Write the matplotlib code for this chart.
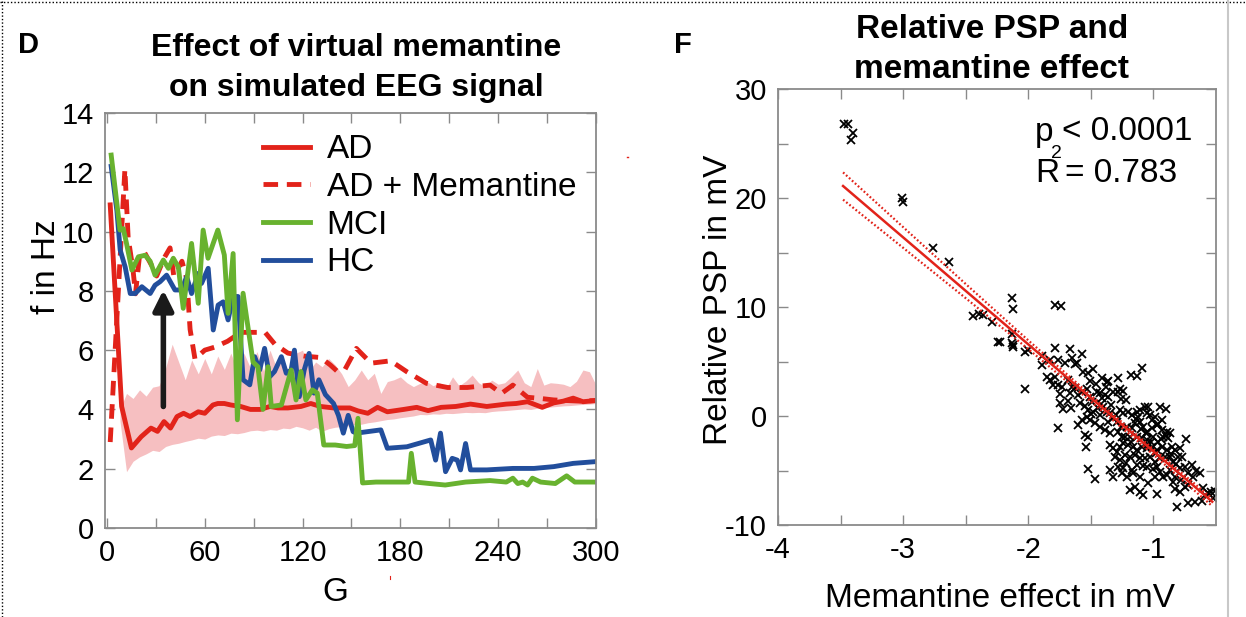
import numpy as np
import matplotlib
matplotlib.use('Agg')
import matplotlib.pyplot as plt
from matplotlib.lines import Line2D
import matplotlib as mpl

mpl.rcParams.update({'font.family': ['Liberation Sans', 'DejaVu Sans'],
                     'axes.unicode_minus': False})

# ---- panel D data (G vs f in Hz) ----
ad_g = [2, 9, 15, 21, 27, 31, 35, 39, 43, 47, 51, 56, 60, 65, 68, 72, 76, 82, 88, 94,
        100, 105, 111, 119, 125, 131, 139, 149, 154, 160, 166, 172, 182, 190, 197, 205, 214, 223, 233, 245,
        251, 258, 267, 274, 280, 286, 292, 300]
ad_f = [10.9, 4.1, 2.7, 3.08, 3.37, 3.26, 3.59, 3.37, 3.76, 3.87, 3.76, 3.92, 3.87, 4.15, 4.2, 4.2, 4.15, 4.1, 4.0, 4.0,
        4.1, 4.05, 4.05, 4.1, 4.2, 4.1, 4.05, 4.05, 3.95, 3.87, 4.07, 3.92, 4.0, 4.07, 3.96, 4.07, 4.1, 4.18, 4.1, 4.18,
        4.2, 4.26, 4.07, 4.22, 4.28, 4.38, 4.26, 4.3]

adm_g = [2, 11, 13, 16, 17.5, 20, 23, 27, 30.5, 35, 38.7, 41, 46, 49, 51, 54, 60, 66, 74,
         82, 90, 97, 103, 111, 121, 131, 137, 141, 146, 153, 162, 174, 184, 196, 209, 221, 235, 242, 249,
         258, 266, 274, 282, 290, 300]
adm_f = [2.9, 12.1, 9.8, 8.7, 7.9, 9.2, 9.3, 8.9, 8.5, 9.1, 9.45, 8.5, 9.0, 8.4, 6.7, 5.7, 6.0, 6.1, 6.3,
         6.6, 6.6, 6.6, 6.2, 5.9, 5.8, 5.75, 5.5, 5.3, 5.35, 6.06, 5.56, 5.64, 5.27, 4.88, 4.74, 4.74, 4.82, 4.54, 4.82,
         4.41, 4.37, 4.32, 4.3, 4.28, 4.3]

mci_g = [2.6, 8, 10, 12, 15.3, 19.3, 23.4, 26.5, 29.5, 34.6, 37.7, 40.7, 43.8, 46.8, 51.9, 56, 59, 62, 68, 72,
         74.3, 77.4, 80, 83.5, 89.6, 92.6, 95.7, 98.8, 100.8, 107, 113, 116, 119, 122, 126, 129, 133, 140, 147, 152,
         154, 156.8, 165, 175, 185, 186.7, 189, 198, 207.5, 220, 235, 245, 249, 252, 255, 258, 261, 266, 275, 282,
         287, 300]
mci_f = [12.58, 10.05, 10.1, 9.6, 8.7, 9.15, 9.2, 9.0, 8.53, 9.04, 8.76, 9.1, 8.8, 7.41, 9.6, 7.58, 10.05, 9.1, 10.05, 9.21,
         7.24, 9.26, 3.65, 7.92, 5.6, 5.44, 4.0, 5.44, 4.1, 4.15, 5.33, 4.32, 5.28, 4.32, 4.66, 4.55, 2.8, 2.8, 2.75, 2.78,
         3.7, 1.52, 1.55, 1.55, 1.55, 2.52, 1.55, 1.5, 1.45, 1.55, 1.6, 1.55, 1.68, 1.5, 1.55, 1.45, 1.68, 1.55, 1.5, 1.76,
         1.55, 1.55]

hc_g = [2.6, 6.1, 8.1, 11.2, 14.3, 17.3, 21.4, 26.5, 29.5, 32.6, 36.6, 41.7, 45.8, 48.9, 51.9, 56, 58, 62.1, 65.2, 68.2,
        71.3, 74.3, 77.4, 80.4, 83.5, 87.6, 90.6, 93.7, 96.7, 99.8, 102.8, 107, 110, 113, 115, 118, 121, 124, 127, 130,
        134, 139, 142, 145, 148, 151, 153, 168, 172, 184, 198.6, 201.6, 204.6, 207.7, 211.8, 214.9, 216.9, 220, 223, 233,
        249, 262, 274, 286, 300]
hc_f = [12.2, 10.7, 9.38, 8.8, 7.91, 7.91, 8.14, 7.91, 8.19, 8.31, 8.53, 8.03, 8.03, 8.48, 7.91, 8.59, 8.25, 8.76, 6.68, 7.52,
        7.63, 7.02, 7.81, 7.81, 5.0, 4.83, 5.78, 5.33, 6.06, 5.1, 5.28, 5.78, 5.22, 5.33, 6.0, 4.43, 5.33, 5.89, 4.55, 5.0,
        4.5, 4.2, 3.8, 3.2, 3.8, 3.25, 3.2, 3.31, 2.69, 2.74, 2.97, 2.29, 3.2, 1.9, 2.35, 2.29, 1.96, 2.85, 1.96, 1.96,
        2.01, 2.01, 2.07, 2.18, 2.24]

band_g = [8, 12, 16, 20, 24, 28, 32, 36, 40, 44, 48, 52, 56, 60, 64, 68, 72, 76, 80, 84, 88, 92, 96, 100, 104,
          108, 112, 116, 120, 124, 128, 132, 136, 140, 144, 148, 152, 156, 160, 164, 168, 172, 176, 180, 184,
          188, 192, 196, 200, 204, 208, 212, 216, 220, 224, 228, 232, 236, 240, 244, 248, 252, 256, 260, 264,
          268, 272, 276, 280, 284, 288, 292, 296, 300]
band_hi = [4.0, 4.54, 4.37, 4.66, 4.45, 4.75, 4.8, 5.4, 6.2, 5.6, 5.0, 5.67, 5.2, 5.72, 5.2, 5.8, 5.35, 5.9, 5.3, 5.9,
           5.4, 5.95, 5.3, 6.0, 5.4, 5.7, 5.2, 5.9, 6.0, 5.3, 5.6, 5.44, 5.72, 5.5, 5.2, 4.77, 5.0, 5.33, 5.0, 5.22,
           4.54, 4.94, 5.0, 5.1, 4.9, 4.77, 4.88, 4.95, 4.8, 4.9, 4.71, 5.1, 4.8, 4.95, 5.16, 4.9, 4.77, 4.99, 4.85, 4.9,
           5.1, 5.33, 4.9, 4.77, 5.38, 4.82, 4.9, 4.88, 4.85, 4.77, 4.95, 5.33, 5.27, 4.82]
band_lo = [3.6, 1.9, 2.25, 2.4, 2.5, 2.62, 2.58, 2.75, 2.82, 2.86, 2.92, 2.97, 3.03, 3.0, 3.1, 3.14, 3.12, 3.2, 3.18, 3.22,
           3.28, 3.3, 3.27, 3.32, 3.3, 3.37, 3.35, 3.43, 3.38, 3.3, 3.4, 3.26, 3.35, 3.4, 3.42, 3.45, 3.49, 3.5, 3.55, 3.58,
           3.62, 3.66, 3.68, 3.72, 3.75, 3.78, 3.83, 3.82, 3.85, 3.84, 3.87, 3.86, 3.88, 3.9, 3.89, 3.9, 3.89, 3.93, 3.95, 3.96,
           3.98, 4.0, 4.02, 4.0, 4.04, 4.06, 4.08, 4.1, 4.12, 4.13, 4.15, 4.17, 4.18, 4.2]

arrow_g = 34.6
arrow_from, arrow_to = 4.1, 8.03

# ---- panel F data (memantine effect vs relative PSP) ----
sc_x = [-3.47, -3.44, -3.42, -3.40, -3.01, -3.00, -2.76, -2.63,
        -2.13, -2.12, -1.79, -1.74, -2.44, -2.39, -2.36, -2.29, -2.24, -2.13, -2.12,
        -2.23, -2.13, -2.12, -2.03, -2.00, -1.89, -1.89, -1.83, -1.79, -1.76, -1.71, -1.67, -1.65, -1.63, -1.61, -1.57,
        -1.56, -1.52, -1.48, -1.51, -1.41, -1.37, -1.36, -1.28, -1.18, -1.13, -1.09, -1.85, -1.83, -1.80, -1.79, -1.76,
        -1.73, -1.75, -2.03, -1.68, -1.67, -1.65, -1.63, -1.60, -1.68, -1.75, -1.72, -1.66, -1.59, -1.57, -1.53, -1.51,
        -1.49, -1.45, -1.43, -1.41, -1.39, -1.36, -1.32, -1.28, -1.27, -1.24, -1.22, -1.26, -1.55, -1.52, -1.48, -1.44,
        -1.43, -1.40, -1.37, -1.35, -1.32, -1.29, -1.27, -1.24, -1.20, -1.17, -1.13, -1.12, -1.11, -1.07, -1.04, -1.05,
        -1.03, -1.01, -0.99, -0.95, -0.90, -0.93, -1.53, -1.51, -1.47, -1.43, -1.39, -1.36, -1.57, -1.60, -1.76, -1.35,
        -1.28, -1.25, -1.21, -1.17, -1.15, -1.11, -1.08, -1.05, -1.01, -0.97, -0.93, -0.89, -0.87, -1.23, -1.19, -1.13,
        -1.09, -1.05, -1.00, -0.96, -0.92, -0.88, -1.55, -1.52, -1.54, -1.35, -1.32, -1.29, -1.27, -1.24, -1.20, -1.16,
        -1.13, -1.09, -1.05, -1.01, -0.97, -0.93, -0.89, -0.85, -0.83, -0.79, -0.74, -1.31, -1.27, -1.23, -1.19, -1.15,
        -1.11, -1.07, -1.03, -0.99, -0.95, -0.91, -0.87, -0.84, -0.80, -0.77, -1.52, -1.47, -1.35, -1.32, -1.28, -1.25,
        -1.24, -1.21, -1.17, -1.16, -1.13, -1.11, -1.05, -1.04, -0.99, -0.97, -0.95, -0.92, -0.89, -0.87, -0.83, -0.79,
        -0.75, -0.72, -0.69, -0.68, -0.63, -1.19, -1.15, -1.11, -1.08, -0.97, -0.83, -0.79, -0.75, -0.72, -0.67, -0.61,
        -0.54, -0.52, -0.81, -0.59, -0.51,
        -1.06, -1.02, -0.98, -0.94, -1.10, -1.14, -1.18, -1.22, -1.00, -0.96, -0.86, -0.82, -1.26, -1.30, -1.34, -1.38,
        -1.42, -1.46, -1.50, -1.08, -1.04, -0.90, -0.84, -0.78, -0.72, -0.66, -0.60, -0.56]
sc_y = [26.76, 26.76, 25.32, 25.93, 19.97, 19.65, 15.44, 14.16,
        10.80, 9.79, 10.19, 10.09, 9.18, 9.36, 9.27, 8.66, 6.82, 6.67, 6.36,
        6.82, 7.52, 6.51, 5.90, 6.06, 5.50, 4.68, 5.14, 6.21, 5.14, 4.83, 6.12, 5.29, 4.77, 4.83, 5.69,
        4.07, 3.91, 4.28, 3.24, 3.52, 3.15, 3.24, 3.52, 3.76, 3.67, 4.37, 3.61, 3.30, 2.84, 3.61, 2.84,
        2.69, 2.02, 2.45, 3.30, 2.08, 2.69, 2.54, 1.93, 1.41, 1.16, 0.64, 0.70, 1.16, 2.23, 2.45, 1.77,
        1.32, 2.23, 2.08, 1.62, 1.93, 1.77, 2.23, 2.23, 2.45, 2.32, 1.47, 1.53, 0.92, 0.55, 0.40, 0.70,
        0.09, 0.86, 0.40, 0.24, -0.21, -0.52, 0.55, 0.24, 0.40, 0.09, 0.40, -0.06, 0.55, 0.86, 0.86, 0.24,
        0.09, -0.37, -0.06, 0.80, 0.61, -0.37, -0.06, -0.37, -0.67, -0.98, -1.28, -0.52, -0.37, -0.83, -1.13, -1.59,
        -1.44, -1.90, -0.98, -1.13, -0.67, -0.52, -0.98, -1.44, -1.13, -0.83, -1.28, -1.44, -1.59, -1.90, -1.90, -1.90,
        -2.05, -2.20, -1.90, -2.35, -1.90, -2.05, -1.74, -1.90, -2.87, -2.66, -2.97, -3.27, -2.81, -2.51, -2.66, -2.81,
        -3.12, -2.81, -2.97, -2.81, -3.12, -2.81, -3.12, -2.81, -3.12, -2.97, -2.14, -3.73, -4.04, -3.58, -3.73, -3.58,
        -3.88, -3.88, -3.73, -4.19, -3.88, -3.73, -3.73, -4.19, -3.73, -3.73, -4.89, -5.81, -4.95, -5.56, -4.65, -5.26,
        -4.80, -5.56, -4.95, -5.26, -4.49, -5.56, -4.65, -6.18, -5.56, -4.65, -5.11, -5.56, -5.41, -4.95, -5.56, -4.80,
        -4.65, -5.26, -4.49, -5.56, -5.20, -6.79, -6.48, -6.94, -7.25, -7.15, -6.73, -6.94, -6.54, -8.01, -7.86, -7.77,
        -6.94, -7.55, -8.32, -7.25, -6.85,
        -1.60, -2.40, -3.40, -2.10, -1.20, -0.30, -2.40, -4.30, -4.90, -0.70, -3.50, -4.40, -1.00, 0.10, 1.00, 2.70,
        1.10, 2.90, 0.20, -4.60, -2.60, -1.80, -6.10, -5.90, -6.30, -5.00, -6.60, -7.10]

fit_x = [-3.48, -0.53]
fit_y = [21.1, -7.86]
ci_x = [-3.48, -3.0, -2.5, -2.0, -1.5, -1.0, -0.53]
ci_hi = [22.35, 17.33, 12.11, 6.94, 1.90, -3.05, -7.57]
ci_lo = [19.85, 15.43, 10.81, 6.14, 1.34, -3.55, -8.27]

RED = '#E2231A'
GREEN = '#68B22F'
BLUE = '#224E9C'
PINK = '#F6BFC1'
GRAY = '#8a8a8a'

W, H = 1246, 617
fig = plt.figure(figsize=(W / 100, H / 100), dpi=100)


def style_axes(ax):
    for s in ax.spines.values():
        s.set_color(GRAY)
        s.set_linewidth(1.3)
    ax.tick_params(which='both', direction='in', top=True, right=True,
                   color=GRAY, width=1.0, labelsize=21, pad=8)
    ax.tick_params(which='major', length=7)
    ax.tick_params(which='minor', length=7)


# ---------------- panel D ----------------
ax1 = fig.add_axes([105 / W, 1 - 528 / H, 491 / W, 415 / H])
ax1.fill_between(band_g, band_lo, band_hi, color=PINK, lw=0)
ax1.plot(ad_g, ad_f, color=RED, lw=3.5, label='AD')
ax1.plot(adm_g, adm_f, color=RED, lw=3.5, ls=(0, (3.0, 1.8)), label='AD + Memantine')
ax1.plot(hc_g, hc_f, color=BLUE, lw=3.5, label='HC')
ax1.plot(mci_g, mci_f, color=GREEN, lw=3.5, label='MCI')
ax1.annotate('', xy=(arrow_g, arrow_to), xytext=(arrow_g, arrow_from),
             arrowprops=dict(arrowstyle='-|>,head_length=0.6,head_width=0.3',
                             lw=4, color='#1a1a1a', mutation_scale=20, shrinkA=0, shrinkB=0))
ax1.set_xlim(-1.2, 300)
ax1.set_ylim(0, 14)
ax1.set_xticks([0, 60, 120, 180, 240, 300])
ax1.set_xticks([30, 90, 150, 210, 270], minor=True)
ax1.set_yticks([0, 2, 4, 6, 8, 10, 12, 14])
style_axes(ax1)
ax1.set_xlabel('G', fontsize=24)
ax1.xaxis.set_label_coords(0.47, -0.118)
ax1.set_ylabel('f in Hz', fontsize=24)
ax1.yaxis.set_label_coords(-0.088, 0.63)

h, l = ax1.get_legend_handles_labels()
order = [0, 1, 3, 2]
ax1.legend([h[i] for i in order], [l[i] for i in order], loc='upper left',
           bbox_to_anchor=(0.275, 1.005), frameon=False, fontsize=24,
           handlelength=1.4, handletextpad=0.5, labelspacing=0.2, borderpad=0.2)

# ---------------- panel F ----------------
ax2 = fig.add_axes([778 / W, 1 - 525 / H, 438 / W, 436 / H])
ax2.plot(sc_x, sc_y, ls='none', marker='x', color='black', ms=5.5, mew=1.3)
ax2.plot(fit_x, fit_y, color=RED, lw=1.8)
ax2.plot(ci_x, ci_hi, color=RED, lw=1.6, ls=(0, (0.8, 1.0)))
ax2.plot(ci_x, ci_lo, color=RED, lw=1.6, ls=(0, (0.8, 1.0)))
ax2.set_xlim(-4, -0.5)
ax2.set_ylim(-10, 30)
ax2.set_xticks([-4, -3, -2, -1])
ax2.set_xticks([-3.5, -2.5, -1.5], minor=True)
ax2.set_yticks([-10, 0, 10, 20, 30])
ax2.set_yticks([-5, 5, 15, 25], minor=True)
style_axes(ax2)
ax2.set_xlabel('Memantine effect in mV', fontsize=24)
ax2.xaxis.set_label_coords(0.507, -0.133)
ax2.set_ylabel('Relative PSP in mV', fontsize=24)
ax2.yaxis.set_label_coords(-0.1, 0.516)

fig.text(1035 / W, 1 - 132 / H, 'p', fontsize=24, va='center', ha='left')
fig.text(1051 / W, 1 - 153 / H, '2', fontsize=14, va='center', ha='left')
fig.text(1062 / W, 1 - 132 / H, '< 0.0001', fontsize=24, va='center', ha='left')
fig.text(1035 / W, 1 - 173 / H, 'R', fontsize=24, va='center', ha='left')
fig.text(1065 / W, 1 - 173 / H, '= 0.783', fontsize=24, va='center', ha='left')

# ---------------- titles & letters ----------------
fig.text(28 / W, 1 - 45 / H, 'D', fontsize=21, weight='bold', va='center', ha='center')
fig.text(356 / W, 1 - 48 / H, 'Effect of virtual memantine', fontsize=23, weight='bold', va='center', ha='center')
fig.text(356 / W, 1 - 88 / H, 'on simulated EEG signal', fontsize=23, weight='bold', va='center', ha='center')
fig.text(683 / W, 1 - 45 / H, 'F', fontsize=21, weight='bold', va='center', ha='center')
fig.text(992 / W, 1 - 29 / H, 'Relative PSP and', fontsize=24, weight='bold', va='center', ha='center')
fig.text(992 / W, 1 - 69 / H, 'memantine effect', fontsize=24, weight='bold', va='center', ha='center')

# frame remnants around the figure
fig.add_artist(Line2D([2 / W, 2 / W], [0, 1], color='black', lw=1, ls=(0, (1, 1.5))))
fig.add_artist(Line2D([0, 1], [1 - 2 / H, 1 - 2 / H], color='black', lw=1, ls=(0, (1, 1.5))))
fig.add_artist(Line2D([1228 / W, 1228 / W], [0, 1], color='#c8c8c8', lw=1.5))
fig.add_artist(Line2D([627 / W, 628 / W], [1 - 157 / H, 1 - 157 / H], color=RED, lw=1))
fig.add_artist(Line2D([390 / W, 390 / W], [1 - 576 / H, 1 - 579 / H], color=RED, lw=0.8))

fig.savefig('out.png', dpi=100)
